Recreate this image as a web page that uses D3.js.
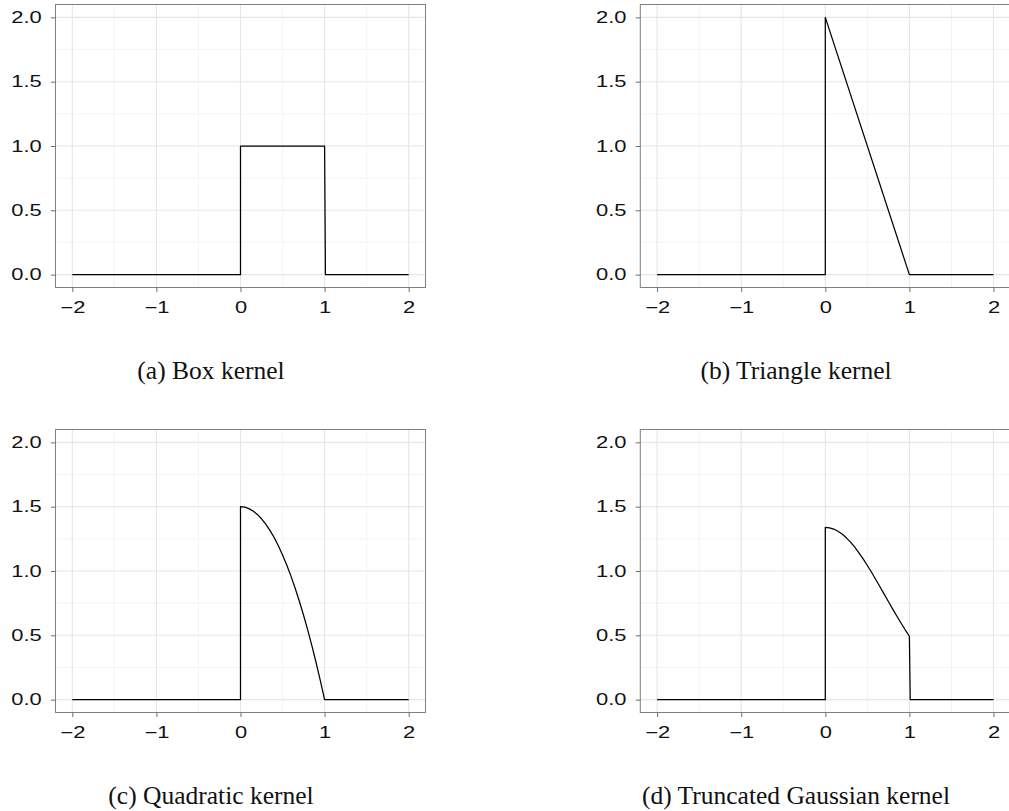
<!DOCTYPE html>
<html>
<head>
<meta charset="utf-8">
<script src="https://cdn.jsdelivr.net/npm/d3@7"></script>
<style>
  html, body { margin: 0; padding: 0; background: #ffffff; }
  svg { display: block; }
</style>
</head>
<body>
<script>
// Axis breaks shared by all four panels
const xBreaks = [-2, -1, 0, 1, 2];
const yBreaks = [0, 0.5, 1, 1.5, 2];
const xMinor = [-1.5, -0.5, 0.5, 1.5];
const yMinor = [0.25, 0.75, 1.25, 1.75];

// Panel captions
const captions = [
  "(a) Box kernel",
  "(b) Triangle kernel",
  "(c) Quadratic kernel",
  "(d) Truncated Gaussian kernel"
];

// Box kernel
const boxX = [-2, 0, 0, 1, 1.01, 2];
const boxY = [0, 0, 1, 1, 0, 0];

// Triangle kernel
const triX = [-2, 0, 0, 1, 2];
const triY = [0, 0, 2, 0, 0];

// Quadratic kernel
const quadX = [-2, 0, 0, 0.05, 0.1, 0.15, 0.2, 0.25, 0.3, 0.35, 0.4, 0.45, 0.5,
               0.55, 0.6, 0.65, 0.7, 0.75, 0.8, 0.85, 0.9, 0.95, 1, 2];
const quadY = [0, 0, 1.5, 1.496, 1.485, 1.466, 1.44, 1.406, 1.365, 1.316, 1.26, 1.196, 1.125,
               1.046, 0.96, 0.866, 0.765, 0.656, 0.54, 0.416, 0.285, 0.146, 0, 0];

// Truncated Gaussian kernel
const gaussX = [-2, 0, 0, 0.05, 0.1, 0.15, 0.2, 0.25, 0.3, 0.35, 0.4, 0.45, 0.5,
                0.55, 0.6, 0.65, 0.7, 0.75, 0.8, 0.85, 0.9, 0.95, 1, 1.01, 2];
const gaussY = [0, 0, 1.339, 1.336, 1.326, 1.309, 1.287, 1.258, 1.224, 1.185, 1.141, 1.094, 1.043,
                0.990, 0.934, 0.878, 0.820, 0.763, 0.706, 0.650, 0.596, 0.543, 0.493, 0, 0];

const series = [
  { xs: boxX, ys: boxY },
  { xs: triX, ys: triY },
  { xs: quadX, ys: quadY },
  { xs: gaussX, ys: gaussY }
];

const W = 1009, H = 811;
const panelW = 370, panelH = 283;
const originX = 55.5, originY = 4.5;
const colStep = 584.8, rowStep = 425;
const captionX = [211, 796];
const captionY = [379, 804];
const stretch = 1.37;   // tick labels are set wide

const svg = d3.select("body").append("svg")
  .attr("width", W)
  .attr("height", H);

const x = d3.scaleLinear().domain([-2.2, 2.2]).range([0, panelW]);
const y = d3.scaleLinear().domain([-0.1, 2.1]).range([panelH, 0]);
const fmtY = d3.format(".1f");
const fmtX = d3.format("d");

const line = d3.line()
  .x(d => x(d[0]))
  .y(d => y(d[1]));

series.forEach((s, i) => {
  const col = i % 2, row = Math.floor(i / 2);
  const g = svg.append("g")
    .attr("transform", `translate(${originX + col * colStep},${originY + row * rowStep})`);

  // minor grid
  g.append("g").selectAll("line.vx").data(xMinor).join("line")
    .attr("x1", d => x(d)).attr("x2", d => x(d))
    .attr("y1", 0).attr("y2", panelH)
    .attr("stroke", "#f3f3f3").attr("stroke-width", 0.9);
  g.append("g").selectAll("line.hy").data(yMinor).join("line")
    .attr("x1", 0).attr("x2", panelW)
    .attr("y1", d => y(d)).attr("y2", d => y(d))
    .attr("stroke", "#f3f3f3").attr("stroke-width", 0.9);

  // major grid
  g.append("g").selectAll("line").data(xBreaks).join("line")
    .attr("x1", d => x(d)).attr("x2", d => x(d))
    .attr("y1", 0).attr("y2", panelH)
    .attr("stroke", "#e6e6e6").attr("stroke-width", 1.1);
  g.append("g").selectAll("line").data(yBreaks).join("line")
    .attr("x1", 0).attr("x2", panelW)
    .attr("y1", d => y(d)).attr("y2", d => y(d))
    .attr("stroke", "#e6e6e6").attr("stroke-width", 1.1);

  // kernel curve
  const pts = s.xs.map((v, k) => [v, s.ys[k]]);
  g.append("path")
    .datum(pts)
    .attr("d", line)
    .attr("fill", "none")
    .attr("stroke", "#000")
    .attr("stroke-width", 1.25)
    .attr("stroke-linejoin", "round");

  // panel border
  g.append("rect")
    .attr("x", 0).attr("y", 0)
    .attr("width", panelW).attr("height", panelH)
    .attr("fill", "none")
    .attr("stroke", "#808080")
    .attr("stroke-width", 1);

  // y axis
  const ya = g.append("g")
    .call(d3.axisLeft(y).tickValues(yBreaks).tickFormat(fmtY).tickSize(4.6).tickPadding(9.2));
  ya.select(".domain").remove();
  ya.selectAll(".tick line").attr("stroke", "#6e6e6e");
  ya.selectAll(".tick text")
    .attr("font-family", "'Liberation Sans', Arial, sans-serif")
    .attr("font-size", 16)
    .attr("fill", "#111")
    .attr("x", -13.8 / stretch)
    .attr("transform", `scale(${stretch},1)`);

  // x axis
  const xa = g.append("g")
    .attr("transform", `translate(0,${panelH})`)
    .call(d3.axisBottom(x).tickValues(xBreaks).tickFormat(fmtX).tickSize(4.6).tickPadding(9.6));
  xa.select(".domain").remove();
  xa.selectAll(".tick line").attr("stroke", "#6e6e6e");
  xa.selectAll(".tick text")
    .attr("font-family", "'Liberation Sans', Arial, sans-serif")
    .attr("font-size", 16)
    .attr("fill", "#111")
    .attr("transform", `scale(${stretch},1)`);

  // caption
  svg.append("text")
    .attr("x", captionX[col])
    .attr("y", captionY[row])
    .attr("text-anchor", "middle")
    .attr("font-family", "'Liberation Serif', 'Times New Roman', serif")
    .attr("font-size", 25.5)
    .attr("fill", "#111")
    .text(captions[i]);
});
</script>
</body>
</html>
